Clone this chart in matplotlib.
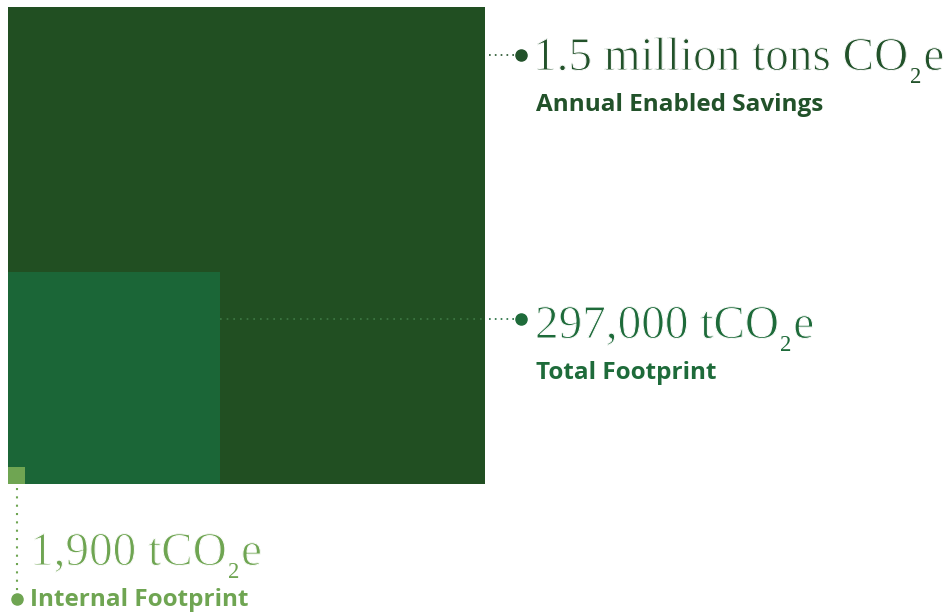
import matplotlib.pyplot as plt
import matplotlib.patheffects as pe
from matplotlib.patches import Rectangle
import numpy as np

# emissions figures (tCO2e) drawn as nested squares, area ~ value
labels = ["Annual Enabled Savings", "Total Footprint", "Internal Footprint"]
values = [1500000, 297000, 1900]
value_text = ["1.5 million tons CO", "297,000 tCO", "1,900 tCO"]
colors = ["#214f22", "#1b6637", "#6fa552"]
text_colors = ["#22522a", "#1e6b3a", "#6fa552"]

W, H = 953, 613
fig = plt.figure(figsize=(W / 100, H / 100), dpi=100)
ax = fig.add_axes([0, 0, 1, 1])
ax.set_xlim(0, W)
ax.set_ylim(H, 0)
ax.axis("off")

x0, y_base = 8, 484
scale = 477 / np.sqrt(values[0])
sides = [scale * np.sqrt(v) for v in values]

for s, c in zip(sides, colors):
    ax.add_patch(Rectangle((x0, y_base - s), s, s, facecolor=c, edgecolor="none"))

serif = "Liberation Serif"
sans = "Open Sans"
# white outline on top of the glyphs makes the serif read lighter
thin = [pe.Normal(), pe.Stroke(linewidth=0.75, foreground="white")]
fig.canvas.draw()
renderer = fig.canvas.get_renderer()
inv = ax.transData.inverted()


def co2_label(x, y, head, size, color):
    # main text, then a dropped subscript 2, then "e"
    t = ax.text(x, y, head, fontsize=size, family=serif, color=color,
                va="baseline", ha="left", path_effects=thin)
    bb = t.get_window_extent(renderer)
    x1 = inv.transform((bb.x1, bb.y0))[0]
    t2 = ax.text(x1 + 1, y + 13, "2", fontsize=size * 0.48, family=serif,
                 color=color, va="baseline", ha="left")
    bb2 = t2.get_window_extent(renderer)
    x2 = inv.transform((bb2.x1, bb2.y0))[0]
    ax.text(x2 + 2, y, "e", fontsize=size, family=serif, color=color,
            va="baseline", ha="left", path_effects=thin)


def name_label(x, y, text, color):
    ax.text(x, y, text, fontsize=17.5, family=sans, weight="bold",
            color=color, va="center", ha="left")


# largest square: leader to the right of its top section
y1 = 55
ax.plot([489, 516], [y1, y1], ls=(0, (1, 2.5)), lw=1.2, color=text_colors[0])
ax.plot(521, y1, "o", ms=8, color=text_colors[0])
co2_label(533, 70, value_text[0], 34, text_colors[0])
name_label(536, 105, labels[0], text_colors[0])

# middle square: leader runs across the big square
y2 = 319
ax.plot([x0 + sides[1], 485], [y2, y2], ls=(0, (1, 3)), lw=1.2, color="#3f7a45")
ax.plot([489, 516], [y2, y2], ls=(0, (1, 2.5)), lw=1.2, color=text_colors[1])
ax.plot(521, y2, "o", ms=8, color=text_colors[1])
co2_label(535, 338, value_text[1], 34, text_colors[1])
name_label(536, 373, labels[1], text_colors[1])

# smallest square: vertical leader down to its label
xs = 17
ax.plot([xs, xs], [488, 592], ls=(0, (1, 3)), lw=1.5, color=text_colors[2])
ax.plot(xs, 599, "o", ms=8, color=text_colors[2])
co2_label(30, 565, value_text[2], 34, text_colors[2])
name_label(30, 600, labels[2], text_colors[2])

fig.savefig("out.png", dpi=100)
